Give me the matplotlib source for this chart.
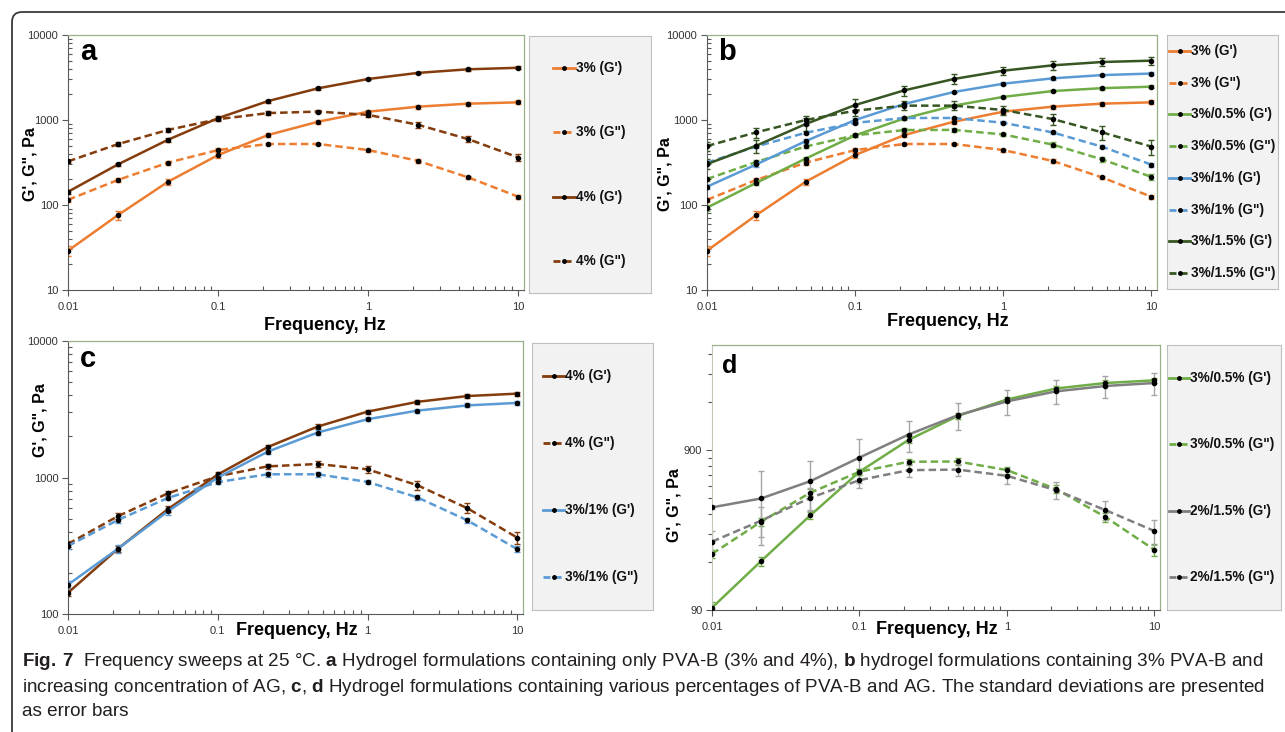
import matplotlib
matplotlib.use('Agg')
import matplotlib.pyplot as plt
import matplotlib.ticker as ticker
from matplotlib.path import Path
from matplotlib.patches import PathPatch
from matplotlib.transforms import IdentityTransform

plt.rcParams['font.family'] = ['Liberation Sans', 'DejaVu Sans']
plt.rcParams['mathtext.fontset'] = 'custom'
plt.rcParams['mathtext.rm'] = 'Liberation Sans'
plt.rcParams['mathtext.bf'] = 'Liberation Sans:bold'

# frequency points (Hz)
freq = [0.01, 0.0215, 0.0464, 0.1, 0.215, 0.464, 1.0, 2.15, 4.64, 10.0]

# moduli (Pa) and standard deviations
p3_g1 = [29, 76, 188, 387, 666, 955, 1253, 1435, 1557, 1614]
p3_g1_sd = [4, 9, 17, 25, 40, 55, 70, 80, 85, 85]
p3_g2 = [115, 197, 315, 443, 522, 522, 443, 330, 211, 125]
p3_g2_sd = [6, 12, 18, 22, 20, 20, 18, 15, 10, 7]
p4_g1 = [143, 300, 586, 1052, 1670, 2360, 3038, 3584, 3952, 4115]
p4_g1_sd = [8, 15, 28, 50, 70, 90, 110, 130, 140, 150]
p4_g2 = [326, 520, 765, 1022, 1206, 1256, 1148, 878, 595, 362]
p4_g2_sd = [15, 25, 35, 45, 55, 60, 70, 65, 50, 35]
ag05_g1 = [93, 182, 352, 660, 1044, 1475, 1870, 2190, 2370, 2465]
ag05_g1_sd = [8, 12, 20, 30, 45, 60, 70, 80, 90, 90]
ag05_g2 = [202, 321, 488, 660, 762, 765, 676, 514, 344, 214]
ag05_g2_sd = [12, 18, 25, 30, 35, 35, 35, 30, 22, 18]
ag1_g1 = [164, 300, 565, 1000, 1545, 2135, 2673, 3090, 3375, 3520]
ag1_g1_sd = [10, 18, 30, 45, 60, 80, 90, 100, 110, 110]
ag1_g2 = [315, 488, 708, 925, 1056, 1056, 928, 715, 485, 298]
ag1_g2_sd = [15, 22, 28, 35, 40, 40, 35, 30, 22, 15]
ag15_g1 = [303, 499, 897, 1500, 2234, 3037, 3804, 4395, 4812, 4990]
ag15_g1_sd = [40, 90, 150, 250, 300, 400, 450, 500, 550, 550]
ag15_g2 = [494, 716, 1000, 1288, 1475, 1475, 1311, 1027, 716, 486]
ag15_g2_sd = [60, 100, 120, 160, 180, 180, 160, 150, 130, 100]
p2ag15_g1 = [395, 449, 576, 810, 1128, 1490, 1820, 2102, 2271, 2372]
p2ag15_g1_sd = [10, 220, 200, 250, 250, 290, 330, 360, 370, 385]
p2ag15_g2 = [241, 326, 453, 585, 675, 681, 622, 506, 380, 281]
p2ag15_g2_sd = [40, 70, 70, 65, 60, 60, 70, 60, 50, 50]

ORANGE = '#ED7D31'
BROWN = '#843C0C'
GREEN = '#70AD47'
BLUE = '#5B9BD5'
DKGREEN = '#375623'
GRAY = '#7F7F7F'

W, H = 1285, 732
fig = plt.figure(figsize=(W / 100, H / 100), dpi=100)


def px_rect(l, r, t, b):
    return [l / W, 1 - b / H, (r - l) / W, (b - t) / H]


def draw(ax, y, sd, color, dashed, ecolor=None):
    ax.errorbar(freq, y, yerr=sd, fmt='none', ecolor=ecolor or color,
                elinewidth=1, capsize=2, capthick=1, zorder=2)
    ln, = ax.plot(freq, y, color=color, lw=1.8, marker='o', ms=3,
                  mfc='k', mec='k', zorder=3)
    if dashed:
        ln.set_dashes((3, 1.6))


def style(ax, ylim, yticks=None, yminor=None, left_light=False):
    ax.set_xscale('log')
    ax.set_yscale('log')
    ax.set_xlim(0.01, 10.9)
    ax.set_ylim(*ylim)
    fmt = ticker.FuncFormatter(lambda v, p: '%g' % v)
    ax.xaxis.set_major_locator(ticker.FixedLocator([0.01, 0.1, 1, 10]))
    ax.xaxis.set_major_formatter(fmt)
    ax.xaxis.set_minor_locator(ticker.LogLocator(subs=range(2, 10)))
    ax.xaxis.set_minor_formatter(ticker.NullFormatter())
    if yticks is not None:
        ax.yaxis.set_major_locator(ticker.FixedLocator(yticks))
        ax.yaxis.set_minor_locator(ticker.FixedLocator(yminor))
    else:
        ax.yaxis.set_minor_locator(ticker.LogLocator(subs=range(2, 10)))
    ax.yaxis.set_major_formatter(fmt)
    ax.yaxis.set_minor_formatter(ticker.NullFormatter())
    ax.tick_params(which='major', direction='out', length=4, width=0.8,
                   color='#595959', labelsize=8, labelcolor='#333333', pad=3)
    ax.tick_params(which='minor', direction='in', length=3, width=0.8,
                   color='#595959')
    ax.tick_params(axis='x', which='major', pad=5)
    for s in ['top', 'right']:
        ax.spines[s].set_color('#98B088')
        ax.spines[s].set_linewidth(0.9)
    ax.spines['left'].set_color('#C0C8B8' if left_light else '#595959')
    ax.spines['bottom'].set_color('#595959')


def labels(ax, xl, yl):
    ax.set_xlabel('Frequency, Hz', fontsize=13, fontweight='bold', va='center')
    ax.xaxis.set_label_coords(*xl)
    ax.set_ylabel('G\', G", Pa', fontsize=11.5, fontweight='bold', va='center')
    ax.yaxis.set_label_coords(*yl)


def legend_box(l, r, t, b, entries, x0, x1):
    lax = fig.add_axes(px_rect(l, r, t, b))
    lax.set_facecolor('#F2F2F2')
    for s in lax.spines.values():
        s.set_color('#BFBFBF')
    lax.set_xticks([])
    lax.set_yticks([])
    lax.set_xlim(l, r)
    lax.set_ylim(0, 1)
    n = len(entries)
    for i, (lab, col, dashed) in enumerate(entries):
        yy = 1 - (i + 0.5) / n
        ln, = lax.plot([x0, x1], [yy, yy], color=col, lw=2)
        if dashed:
            ln.set_dashes((2.5, 1.5))
        lax.plot([(x0 + x1) / 2], [yy], 'o', color='k', ms=2.5)
        lax.text(x1 + 1, yy, lab, fontsize=9.8, fontweight='bold',
                 va='center', ha='left', color='#111111')


# panel a
ax = fig.add_axes(px_rect(68, 524, 35, 290))
draw(ax, p3_g1, p3_g1_sd, ORANGE, False)
draw(ax, p3_g2, p3_g2_sd, ORANGE, True)
draw(ax, p4_g1, p4_g1_sd, BROWN, False)
draw(ax, p4_g2, p4_g2_sd, BROWN, True)
style(ax, (10, 10000))
labels(ax, (0.564, -0.14), (-0.083, 0.494))
legend_box(529, 651, 36, 293,
           [("3% (G')", ORANGE, False), ('3% (G")', ORANGE, True),
            ("4% (G')", BROWN, False), ('4% (G")', BROWN, True)], 553, 575)

# panel b
ax = fig.add_axes(px_rect(707, 1157, 35, 290))
draw(ax, p3_g1, p3_g1_sd, ORANGE, False)
draw(ax, p3_g2, p3_g2_sd, ORANGE, True)
draw(ax, ag05_g1, ag05_g1_sd, GREEN, False)
draw(ax, ag05_g2, ag05_g2_sd, GREEN, True)
draw(ax, ag1_g1, ag1_g1_sd, BLUE, False)
draw(ax, ag1_g2, ag1_g2_sd, BLUE, True)
draw(ax, ag15_g1, ag15_g1_sd, DKGREEN, False)
draw(ax, ag15_g2, ag15_g2_sd, DKGREEN, True)
style(ax, (10, 10000))
labels(ax, (0.535, -0.125), (-0.093, 0.455))
legend_box(1167, 1278, 35, 289,
           [("3% (G')", ORANGE, False), ('3% (G")', ORANGE, True),
            ("3%/0.5% (G')", GREEN, False), ('3%/0.5% (G")', GREEN, True),
            ("3%/1% (G')", BLUE, False), ('3%/1% (G")', BLUE, True),
            ("3%/1.5% (G')", DKGREEN, False), ('3%/1.5% (G")', DKGREEN, True)],
           1169, 1190)

# panel c
ax = fig.add_axes(px_rect(68, 523, 341, 614))
draw(ax, p4_g1, p4_g1_sd, BROWN, False)
draw(ax, p4_g2, p4_g2_sd, BROWN, True)
draw(ax, ag1_g1, ag1_g1_sd, BLUE, False)
draw(ax, ag1_g2, ag1_g2_sd, BLUE, True)
style(ax, (100, 10000))
labels(ax, (0.503, -0.059), (-0.062, 0.71))
legend_box(532, 653, 343, 610,
           [("4% (G')", BROWN, False), ('4% (G")', BROWN, True),
            ("3%/1% (G')", BLUE, False), ('3%/1% (G")', BLUE, True)], 543, 564)

# panel d
ax = fig.add_axes(px_rect(712, 1160, 345, 610))
draw(ax, ag05_g1, ag05_g1_sd, GREEN, False)
draw(ax, ag05_g2, ag05_g2_sd, GREEN, True)
draw(ax, p2ag15_g1, p2ag15_g1_sd, GRAY, False, ecolor='#A6A6A6')
draw(ax, p2ag15_g2, p2ag15_g2_sd, GRAY, True, ecolor='#A6A6A6')
style(ax, (90, 4100), yticks=[90, 900],
      yminor=[180, 270, 360, 450, 540, 630, 720, 810, 1800, 2700, 3600],
      left_light=True)
ax.tick_params(axis='y', which='minor', direction='out')
labels(ax, (0.502, -0.075), (-0.085, 0.396))
legend_box(1167, 1281, 345, 610,
           [("3%/0.5% (G')", GREEN, False), ('3%/0.5% (G")', GREEN, True),
            ("2%/1.5% (G')", GRAY, False), ('2%/1.5% (G")', GRAY, True)],
           1169, 1189)

# panel letters
for lx, ly, s, fs in [(88, 52, 'a', 21), (727, 52, 'b', 21),
                      (88, 359, 'c', 21), (730, 366, 'd', 18)]:
    fig.text(lx / W, 1 - ly / H, s, fontsize=fs, fontweight='bold',
             ha='center', va='center')

# outer frame with rounded corners (pixel coords)
r = 10
x0, x1, y0, y1 = 12, 1310, -12, H - 12
verts = [(x1, y1), (x0 + r, y1), (x0, y1), (x0, y1 - r), (x0, y0 + r),
         (x0, y0), (x0 + r, y0), (x1, y0)]
codes = [Path.MOVETO, Path.LINETO, Path.CURVE3, Path.CURVE3, Path.LINETO,
         Path.CURVE3, Path.CURVE3, Path.LINETO]
fig.add_artist(PathPatch(Path(verts, codes), transform=IdentityTransform(),
                         fill=False, edgecolor='#3A3A3A', lw=1.3))

# caption
cap = [r"$\bf{Fig.\,7}$  Frequency sweeps at 25 °C. $\bf{a}$ Hydrogel formulations containing only PVA-B (3% and 4%), $\bf{b}$ hydrogel formulations containing 3% PVA-B and",
       r"increasing concentration of AG, $\bf{c}$, $\bf{d}$ Hydrogel formulations containing various percentages of PVA-B and AG. The standard deviations are presented",
       "as error bars"]
for i, line in enumerate(cap):
    fig.text(22 / W, 1 - (662 + 25 * i) / H, line, fontsize=13.6,
             ha='left', va='center', color='#231F20')

fig.savefig('out.png', dpi=100)
